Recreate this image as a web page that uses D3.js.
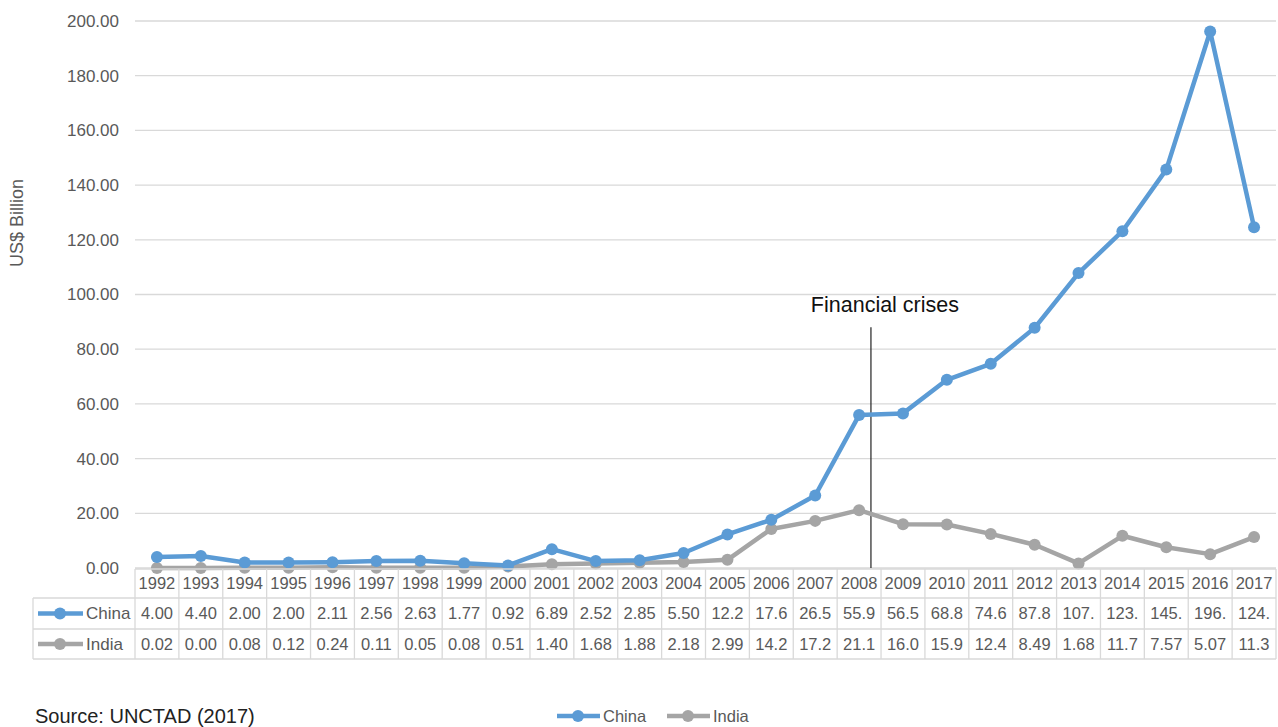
<!DOCTYPE html>
<html><head><meta charset="utf-8">
<script src="https://cdn.jsdelivr.net/npm/d3@7"></script>
<style>
body{margin:0;background:#fff;}
svg{display:block;font-family:"Liberation Sans",Arial,sans-serif;}
</style></head>
<body><svg id="c" width="1278" height="727"></svg>
<script>
const years = [1992,1993,1994,1995,1996,1997,1998,1999,2000,2001,2002,2003,2004,2005,2006,2007,2008,2009,2010,2011,2012,2013,2014,2015,2016,2017];
const china = [4.00,4.40,2.00,2.00,2.11,2.56,2.63,1.77,0.92,6.89,2.52,2.85,5.50,12.26,17.63,26.51,55.91,56.53,68.81,74.65,87.80,107.84,123.13,145.67,196.15,124.63];
const india = [0.02,0.00,0.08,0.12,0.24,0.11,0.05,0.08,0.51,1.40,1.68,1.88,2.18,2.99,14.29,17.23,21.15,16.03,15.93,12.46,8.49,1.68,11.78,7.57,5.07,11.30];
const yTicks = [0,20,40,60,80,100,120,140,160,180,200];
const seriesNames = ["China","India"];
const seriesColors = ["#5B9BD5","#A5A5A5"];
const annotation = {label:"Financial crises", year:2008, offset:0.27, top:88};

const svg = d3.select("#c");
const L = 135, R = 1276, T = 21, B = 568;
const x = d3.scaleBand().domain(years).range([L,R]).padding(0);
const y = d3.scaleLinear().domain([0,200]).range([B,T]);
const cx = d => x(d) + x.bandwidth()/2;

// gridlines
svg.append("g").selectAll("line").data(yTicks).join("line")
  .attr("x1",L).attr("x2",R).attr("y1",d=>y(d)).attr("y2",d=>y(d))
  .attr("stroke","#D9D9D9").attr("stroke-width",1.3);
// y tick labels
svg.append("g").selectAll("text").data(yTicks).join("text")
  .attr("x",119).attr("y",d=>y(d)).attr("dy","0.35em").attr("text-anchor","end")
  .attr("font-size",17).attr("fill","#595959").text(d=>d3.format(".2f")(d));
// y axis title
svg.append("text").attr("transform","translate(23,223) rotate(-90)")
  .attr("text-anchor","middle").attr("font-size",18).attr("fill","#595959").text("US$ Billion");

// annotation
const ax = x(annotation.year) + x.bandwidth()*(0.5+annotation.offset);
svg.append("line").attr("x1",ax).attr("x2",ax).attr("y1",y(annotation.top)).attr("y2",B)
  .attr("stroke","#222").attr("stroke-width",1.2);
svg.append("text").attr("x",ax+14).attr("y",y(annotation.top)-15).attr("text-anchor","middle")
  .attr("font-size",21.5).attr("fill","#111").text(annotation.label);

// series
const data = [china, india];
const line = d3.line().x((d,i)=>cx(years[i])).y(d=>y(d));
[1,0].forEach(k=>{
  const g = svg.append("g");
  g.append("path").datum(data[k]).attr("d",line).attr("fill","none")
    .attr("stroke",seriesColors[k]).attr("stroke-width",4.5).attr("stroke-linejoin","round");
  g.selectAll("circle").data(data[k]).join("circle")
    .attr("cx",(d,i)=>cx(years[i])).attr("cy",d=>y(d)).attr("r",6).attr("fill",seriesColors[k]);
});

// data table
const tb = svg.append("g");
const rowY = [569,598,629,659];
const bc = "#D9D9D9";
tb.append("line").attr("x1",L).attr("x2",R).attr("y1",rowY[0]).attr("y2",rowY[0]).attr("stroke",bc).attr("stroke-width",1.3);
[1,2,3].forEach(i=>tb.append("line").attr("x1",33).attr("x2",R).attr("y1",rowY[i]).attr("y2",rowY[i]).attr("stroke",bc).attr("stroke-width",1.3));
tb.selectAll("line.v").data(years).join("line").attr("class","v")
  .attr("x1",d=>x(d)).attr("x2",d=>x(d)).attr("y1",rowY[0]).attr("y2",rowY[3]).attr("stroke",bc).attr("stroke-width",1.3);
tb.append("line").attr("x1",R).attr("x2",R).attr("y1",rowY[0]).attr("y2",rowY[3]).attr("stroke",bc).attr("stroke-width",1.3);
tb.append("line").attr("x1",33).attr("x2",33).attr("y1",rowY[1]).attr("y2",rowY[3]).attr("stroke",bc).attr("stroke-width",1.3);
tb.selectAll("text.h").data(years).join("text").attr("class","h")
  .attr("x",d=>cx(d)).attr("y",(rowY[0]+rowY[1])/2).attr("dy","0.35em").attr("text-anchor","middle")
  .attr("font-size",16.5).attr("fill","#595959").text(d=>d);
const fmt = v => d3.format(".2f")(v).slice(0,4);
data.forEach((s,k)=>{
  const yy = (rowY[k+1]+rowY[k+2])/2;
  tb.selectAll("text.r"+k).data(s).join("text").attr("class","r"+k)
    .attr("x",(d,i)=>cx(years[i])).attr("y",yy).attr("dy","0.35em").attr("text-anchor","middle")
    .attr("font-size",16.5).attr("fill","#595959").text(fmt);
  tb.append("line").attr("x1",38).attr("x2",83).attr("y1",yy).attr("y2",yy)
    .attr("stroke",seriesColors[k]).attr("stroke-width",4.5);
  tb.append("circle").attr("cx",60).attr("cy",yy).attr("r",6).attr("fill",seriesColors[k]);
  tb.append("text").attr("x",86).attr("y",yy).attr("dy","0.35em").attr("font-size",17)
    .attr("fill","#595959").text(seriesNames[k]);
});

// legend
const lg = svg.append("g");
const lx = [557,667];
seriesNames.forEach((n,k)=>{
  lg.append("line").attr("x1",lx[k]).attr("x2",lx[k]+43).attr("y1",716).attr("y2",716)
    .attr("stroke",seriesColors[k]).attr("stroke-width",4.5);
  lg.append("circle").attr("cx",lx[k]+21).attr("cy",716).attr("r",6).attr("fill",seriesColors[k]);
  lg.append("text").attr("x",lx[k]+46).attr("y",716).attr("dy","0.35em").attr("font-size",16.5)
    .attr("fill","#595959").text(n);
});

// source
svg.append("text").attr("x",35).attr("y",716).attr("dy","0.35em").attr("font-size",20)
  .attr("fill","#222").text("Source: UNCTAD (2017)");
</script></body></html>
